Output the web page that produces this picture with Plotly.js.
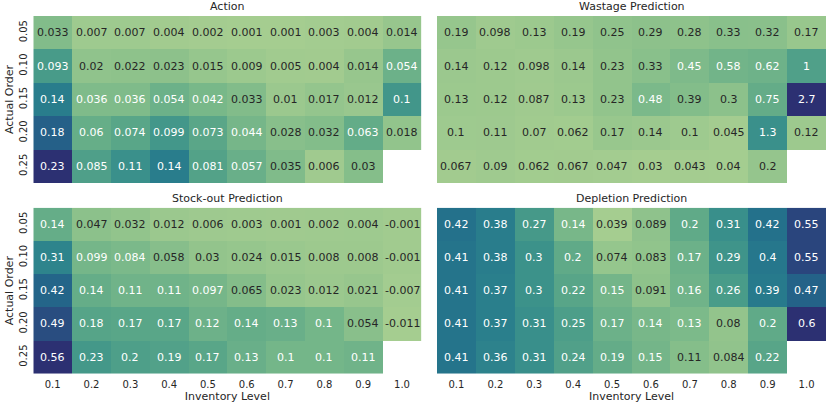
<!DOCTYPE html>
<html>
<head>
<meta charset="utf-8">
<script src="https://cdn.plot.ly/plotly-3.0.1.min.js"></script>
<style>html,body{margin:0;padding:0;background:#fff;}#chart{width:830px;height:407px;}</style>
</head>
<body>
<div id="chart"></div>
<script>
// ---- data ----
const inventoryLevels = ['0.1','0.2','0.3','0.4','0.5','0.6','0.7','0.8','0.9','1.0'];
const actualOrders = ['0.05','0.10','0.15','0.20','0.25'];
const panelTitles = ['Action','Wastage Prediction','Stock-out Prediction','Depletion Prediction'];

const actionValues = [
  [0.033,0.007,0.007,0.004,0.002,0.001,0.001,0.003,0.004,0.014],
  [0.093,0.02,0.022,0.023,0.015,0.009,0.005,0.004,0.014,0.054],
  [0.14,0.036,0.036,0.054,0.042,0.033,0.01,0.017,0.012,0.1],
  [0.18,0.06,0.074,0.099,0.073,0.044,0.028,0.032,0.063,0.018],
  [0.23,0.085,0.11,0.14,0.081,0.057,0.035,0.006,0.03,null]
];
const wastageValues = [
  [0.19,0.098,0.13,0.19,0.25,0.29,0.28,0.33,0.32,0.17],
  [0.14,0.12,0.098,0.14,0.23,0.33,0.45,0.58,0.62,1],
  [0.13,0.12,0.087,0.13,0.23,0.48,0.39,0.3,0.75,2.7],
  [0.1,0.11,0.07,0.062,0.17,0.14,0.1,0.045,1.3,0.12],
  [0.067,0.09,0.062,0.067,0.047,0.03,0.043,0.04,0.2,null]
];
const stockoutValues = [
  [0.14,0.047,0.032,0.012,0.006,0.003,0.001,0.002,0.004,-0.001],
  [0.31,0.099,0.084,0.058,0.03,0.024,0.015,0.008,0.008,-0.001],
  [0.42,0.14,0.11,0.11,0.097,0.065,0.023,0.012,0.021,-0.007],
  [0.49,0.18,0.17,0.17,0.12,0.14,0.13,0.1,0.054,-0.011],
  [0.56,0.23,0.2,0.19,0.17,0.13,0.1,0.1,0.11,null]
];
const depletionValues = [
  [0.42,0.38,0.27,0.14,0.039,0.089,0.2,0.31,0.42,0.55],
  [0.41,0.38,0.3,0.2,0.074,0.083,0.17,0.29,0.4,0.55],
  [0.41,0.37,0.3,0.22,0.15,0.091,0.16,0.26,0.39,0.47],
  [0.41,0.37,0.31,0.25,0.17,0.14,0.13,0.08,0.2,0.6],
  [0.41,0.36,0.31,0.24,0.19,0.15,0.11,0.084,0.22,null]
];
const panels = [actionValues, wastageValues, stockoutValues, depletionValues];

// seaborn "crest"-like colorscale
const crest = [
  [0.0,'rgb(165,205,144)'],[0.1,'rgb(140,193,139)'],[0.2,'rgb(115,181,137)'],
  [0.3,'rgb(93,168,136)'],[0.4,'rgb(72,155,137)'],[0.5,'rgb(54,141,139)'],
  [0.6,'rgb(41,126,140)'],[0.7,'rgb(35,110,139)'],[0.8,'rgb(37,93,135)'],
  [0.9,'rgb(42,72,126)'],[1.0,'rgb(44,48,114)']
];
const dark = '#262626';
const FONT = 'DejaVu Sans, sans-serif';

function fmt(v){ return String(Number(v.toPrecision(2))); }

const data = [];
const annotations = [];
panels.forEach((vals, k) => {
  const flat = vals.flat().filter(v => v !== null);
  const zmin = Math.min(...flat), zmax = Math.max(...flat);
  const sfx = k === 0 ? '' : String(k+1);
  data.push({
    type:'heatmap', z: vals, x: inventoryLevels, y: actualOrders,
    xaxis:'x'+sfx, yaxis:'y'+sfx, colorscale: crest, zmin: zmin, zmax: zmax,
    showscale:false, hoverongaps:false, xgap:0, ygap:0
  });
  vals.forEach((row, i) => row.forEach((v, j) => {
    if (v === null) return;
    const t = (v - zmin) / (zmax - zmin);
    // category axes: position by category index
    annotations.push({
      xref:'x'+sfx, yref:'y'+sfx, x: j, y: i,
      text: fmt(v), showarrow:false,
      font:{family:FONT, size:11, color: t > 0.15 ? '#ffffff' : dark}
    });
  }));
});

const colL = [33.3/830, 421.5/830];
const colR = [437/830, 826/830];
const rowT = [1-183/407, 1-16/407];
const rowB = [1-373.7/407, 1-207.7/407];
const domains = [[colL,rowT],[colR,rowT],[colL,rowB],[colR,rowB]];

domains.forEach((d, k) => {
  annotations.push({
    xref:'paper', yref:'paper', x:(d[0][0]+d[0][1])/2, y:d[1][1],
    xanchor:'center', yanchor:'bottom', yshift:1, text: panelTitles[k], showarrow:false,
    font:{family:FONT, size:11, color:dark}
  });
});

function xax(k){
  const bottom = k >= 2;
  return {domain: domains[k][0], anchor: k===0?'y':'y'+(k+1), type:'category',
    showticklabels: bottom, ticks:'', showgrid:false, zeroline:false, showline:false,
    tickfont:{family:FONT,size:10,color:dark}, ticklabelstandoff:3,
    title: bottom ? {text:'Inventory Level', font:{family:FONT,size:11,color:dark}, standoff:1} : {text:''}};
}
function yax(k){
  const left = (k % 2) === 0;
  return {domain: domains[k][1], anchor: k===0?'x':'x'+(k+1), type:'category',
    autorange:'reversed', showticklabels: left, ticks:'', showgrid:false, zeroline:false,
    showline:false, tickangle:-90, tickfont:{family:FONT,size:10,color:dark}, ticklabelstandoff:3,
    title: left ? {text:'Actual Order', font:{family:FONT,size:11,color:dark}, standoff:2} : {text:''}};
}

const layout = {
  width:830, height:407, margin:{l:0,r:0,t:0,b:0},
  paper_bgcolor:'#fff', plot_bgcolor:'#fff', showlegend:false,
  font:{family:FONT, color:dark},
  xaxis:xax(0), yaxis:yax(0), xaxis2:xax(1), yaxis2:yax(1),
  xaxis3:xax(2), yaxis3:yax(2), xaxis4:xax(3), yaxis4:yax(3),
  annotations: annotations
};
Plotly.newPlot('chart', data, layout, {staticPlot:true, displayModeBar:false});
</script>
</body>
</html>
